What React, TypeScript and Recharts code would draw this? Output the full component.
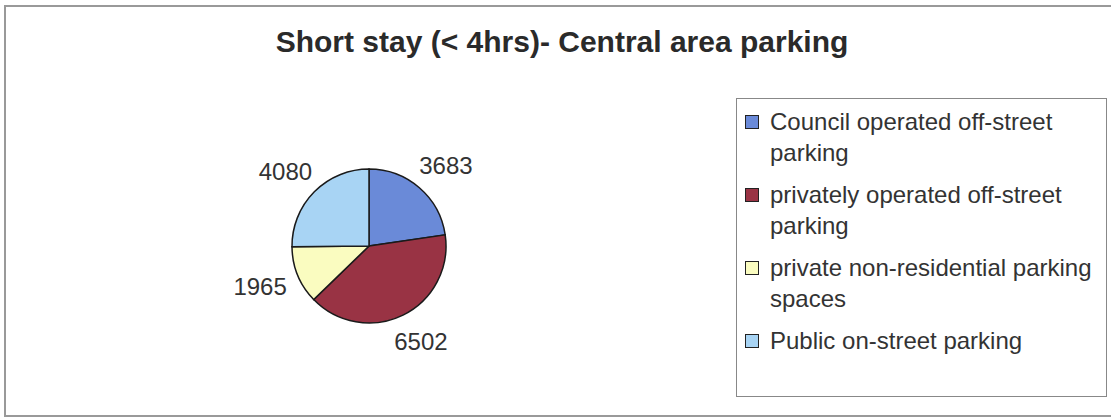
import React from 'react';
import { PieChart, Pie, Cell, Legend } from 'recharts';

const categories = [
  'Council operated off-street parking',
  'privately operated off-street parking',
  'private non-residential parking spaces',
  'Public on-street parking',
];
const values = [3683, 6502, 1965, 4080];
const colors = ['#6a8ad8', '#993344', '#fafcc0', '#a8d4f4'];
const title = 'Short stay (< 4hrs)- Central area parking';

const data = categories.map((name, i) => ({ name, value: values[i] }));

const FONT = '"Liberation Sans", Arial, Helvetica, sans-serif';

const renderLabel = (props: any) => {
  const { cx, cy, midAngle, outerRadius, value } = props;
  const RAD = Math.PI / 180;
  const r = outerRadius + 14;
  const c = Math.cos(midAngle * RAD);
  const s = Math.sin(midAngle * RAD);
  const px = cx + r * c;
  const py = cy - r * s;
  const w = String(value).length * 0.556 * 24;
  const h = 30;
  const tx = px + (c * w) / 2;
  const ty = py - (s * h) / 2;
  return (
    <text
      x={tx}
      y={ty}
      textAnchor="middle"
      dominantBaseline="central"
      fill="#333"
      fontSize={24}
      fontFamily={FONT}
    >
      {value}
    </text>
  );
};

const renderLegend = (props: any) => {
  const payload: any[] = props.payload || [];
  const ordered = categories
    .map((name) => payload.find((p: any) => p.value === name))
    .filter(Boolean);
  return (
    <div
      style={{
        boxSizing: 'border-box',
        width: 371,
        height: 299,
        border: '1px solid #888',
        background: '#fff',
        paddingTop: 7,
        fontFamily: FONT,
        fontSize: 24,
        lineHeight: '31px',
        color: '#333',
      }}
    >
      {ordered.map((entry: any, i: number) => (
        <div key={i} style={{ display: 'flex', alignItems: 'flex-start', marginBottom: 11 }}>
          <div
            style={{
              width: 12,
              height: 12,
              marginLeft: 8,
              marginTop: 9,
              marginRight: 11,
              flex: '0 0 auto',
              background: entry.color,
              border: '1px solid #222',
            }}
          />
          <div style={{ width: 334 }}>{entry.value}</div>
        </div>
      ))}
    </div>
  );
};

export default function App() {
  return (
    <div
      style={{
        position: 'absolute',
        left: 0,
        top: 0,
        width: 1111,
        height: 419,
        background: '#fff',
        overflow: 'hidden',
      }}
    >
      <div
        style={{
          position: 'absolute',
          left: 4,
          top: 5,
          width: 1130,
          height: 408,
          border: '2px solid #999',
        }}
      />
      <div
        style={{
          position: 'absolute',
          left: 0,
          top: 27,
          width: 1124,
          textAlign: 'center',
          fontFamily: FONT,
          fontWeight: 'bold',
          fontSize: 30,
          lineHeight: '30px',
          color: '#2a2a2a',
        }}
      >
        {title}
      </div>
      <div style={{ position: 'absolute', left: 0, top: 0 }}>
        <PieChart width={1111} height={419}>
          <Pie
            data={data}
            dataKey="value"
            nameKey="name"
            cx={364}
            cy={241}
            outerRadius={77}
            startAngle={90}
            endAngle={-270}
            stroke="#1a1a1a"
            strokeWidth={1.5}
            label={renderLabel}
            labelLine={false}
            isAnimationActive={false}
          >
            {data.map((d, i) => (
              <Cell key={d.name} fill={colors[i]} />
            ))}
          </Pie>
          <Legend
            content={renderLegend}
            wrapperStyle={{ position: 'absolute', left: 736, top: 98, width: 371, height: 299 }}
          />
        </PieChart>
      </div>
    </div>
  );
}
